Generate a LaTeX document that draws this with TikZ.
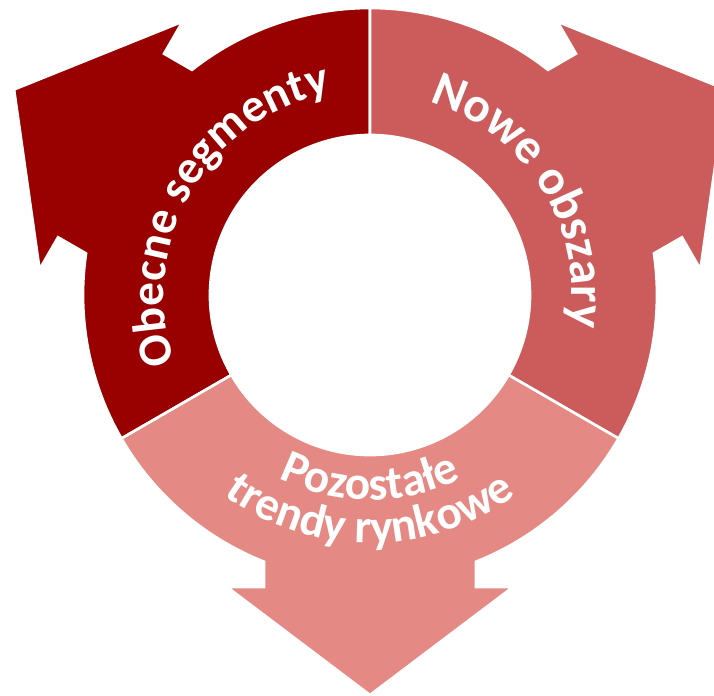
\documentclass[tikz,border=0pt]{standalone}
\usepackage{fontspec}
\setmainfont{Carlito}
\usetikzlibrary{decorations.text}

\definecolor{segdark}{RGB}{153,0,0}
\definecolor{segmid}{RGB}{204,91,91}
\definecolor{seglight}{RGB}{228,137,132}

\newcommand{\ringfont}{\bfseries\fontsize{35.5}{35.5}\selectfont\color{white}}
\newcommand{\ringfontbig}{\bfseries\fontsize{37}{37}\selectfont\color{white}}

\begin{document}
\begin{tikzpicture}[x=0.75pt,y=0.75pt,
    segment/.style={draw=white, line width=2pt, line join=miter},
    ringtext/.style={decorate, decoration={text along path, text align=center}}]
        \useasboundingbox (-370,-401) rectangle (344,295);
        \clip (-370,-401) rectangle (344,295);

        %Shape: Arc Arrow [left] 
        \begin{scope}[rotate=150]
        \path [segment, fill=segdark] (-60:160) -- (-60:287) arc [start angle=-60, end angle=-21.67, radius=287] -- (299,-106) -- (299,-143) -- (411,0) -- (299,143) -- (299,106) -- (21.67:287) arc [start angle=21.67, end angle=60, radius=287] -- (60:160) arc [start angle=60, end angle=-60, radius=160] -- cycle ;
        \end{scope}
        %Shape: Arc Arrow [right] 
        \begin{scope}[rotate=30]
        \path [segment, fill=segmid] (-60:160) -- (-60:287) arc [start angle=-60, end angle=-21.67, radius=287] -- (299,-106) -- (299,-143) -- (411,0) -- (299,143) -- (299,106) -- (21.67:287) arc [start angle=21.67, end angle=60, radius=287] -- (60:160) arc [start angle=60, end angle=-60, radius=160] -- cycle ;
        \end{scope}
        %Shape: Arc Arrow [bottom] 
        \begin{scope}[rotate=270]
        \path [segment, fill=seglight] (-60:160) -- (-60:287) arc [start angle=-60, end angle=-21.67, radius=287] -- (292,-106) -- (292,-143) -- (400,0) -- (292,143) -- (292,106) -- (21.67:287) arc [start angle=21.67, end angle=60, radius=287] -- (60:160) arc [start angle=60, end angle=-60, radius=160] -- cycle ;
        \end{scope}

        % Text Node
        \path [ringtext, decoration={text={|\ringfont|Obecne segmenty}}] (210:206) arc [start angle=210, end angle=90, radius=206] ;
        % Text Node
        \path [ringtext, decoration={text={|\ringfontbig|Nowe obszary}}] (92:202) arc [start angle=92, end angle=-28, radius=202] ;
        % Text Node
        \path [ringtext, decoration={text={|\ringfont|Pozostałe}}] (210:205) arc [start angle=210, end angle=330, radius=205] ;
        % Text Node
        \path [ringtext, decoration={text={|\ringfont|trendy rynkowe}}] (210:248) arc [start angle=210, end angle=330, radius=248] ;

\end{tikzpicture}
\end{document}
